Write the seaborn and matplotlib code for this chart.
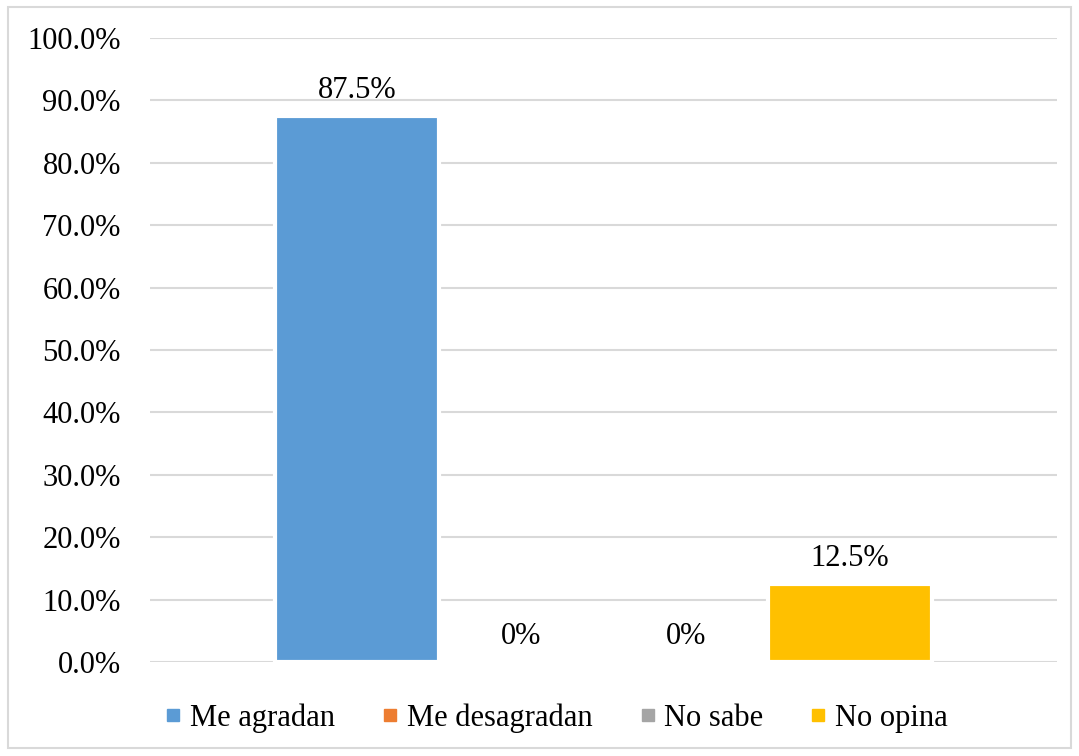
import matplotlib
matplotlib.use("Agg")
import matplotlib.pyplot as plt
import seaborn as sns
import pandas as pd
from matplotlib.patches import Rectangle
from matplotlib.lines import Line2D
from matplotlib.ticker import FuncFormatter

# data
series = ["Me agradan", "Me desagradan", "No sabe", "No opina"]
values = [87.5, 0.0, 0.0, 12.5]
value_labels = ["87.5%", "0%", "0%", "12.5%"]
colors = ["#5B9BD5", "#ED7D31", "#A5A5A5", "#FFC000"]
y_ticks = [0, 10, 20, 30, 40, 50, 60, 70, 80, 90, 100]

df = pd.DataFrame({"grupo": ["Total"] * len(series), "serie": series, "valor": values})

sns.set_style("white")
plt.rcParams["font.family"] = ["Liberation Serif", "DejaVu Serif"]
plt.rcParams["text.color"] = "black"

fig = plt.figure(figsize=(10.79, 7.56), dpi=100)
ax = fig.add_axes([150 / 1079, 1 - 662 / 756, (1057 - 150) / 1079, (662 - 38) / 756])

sns.barplot(data=df, x="grupo", y="valor", hue="serie", hue_order=series,
            palette=colors, width=0.724, saturation=1, ax=ax, legend=False,
            edgecolor="white", linewidth=3)

for cont, lab in zip(ax.containers, value_labels):
    ax.bar_label(cont, labels=[lab], padding=8, fontsize=22, color="black")

ax.set_ylim(0, 100)
ax.set_xlim(-0.5, 0.5)
ax.set_yticks(y_ticks)
ax.yaxis.set_major_formatter(FuncFormatter(lambda v, p: f"{v:.1f}%"))
ax.tick_params(axis="y", labelsize=22, length=0, pad=21, labelcolor="black")
ax.set_xticks([])
ax.set_xlabel("")
ax.set_ylabel("")
ax.grid(axis="y", color="#D9D9D9", linewidth=1.5)
ax.set_axisbelow(True)
for s in ax.spines.values():
    s.set_visible(False)

handles = [Line2D([0], [0], marker="s", linestyle="none", markersize=9,
                  markerfacecolor=c, markeredgecolor=c) for c in colors]
fig.legend(handles, series, loc="center", bbox_to_anchor=(553 / 1079, 1 - 718 / 756),
           ncol=4, frameon=False, fontsize=22, handletextpad=0.05, columnspacing=1.3,
           handlelength=1.0, labelcolor="black")

fig.patches.append(Rectangle((8 / 1079, 1 - 748 / 756), (1071 - 8) / 1079, (748 - 7) / 756,
                             transform=fig.transFigure, fill=False,
                             edgecolor="#D9D9D9", linewidth=1.5))

fig.savefig("out.png", dpi=100)
